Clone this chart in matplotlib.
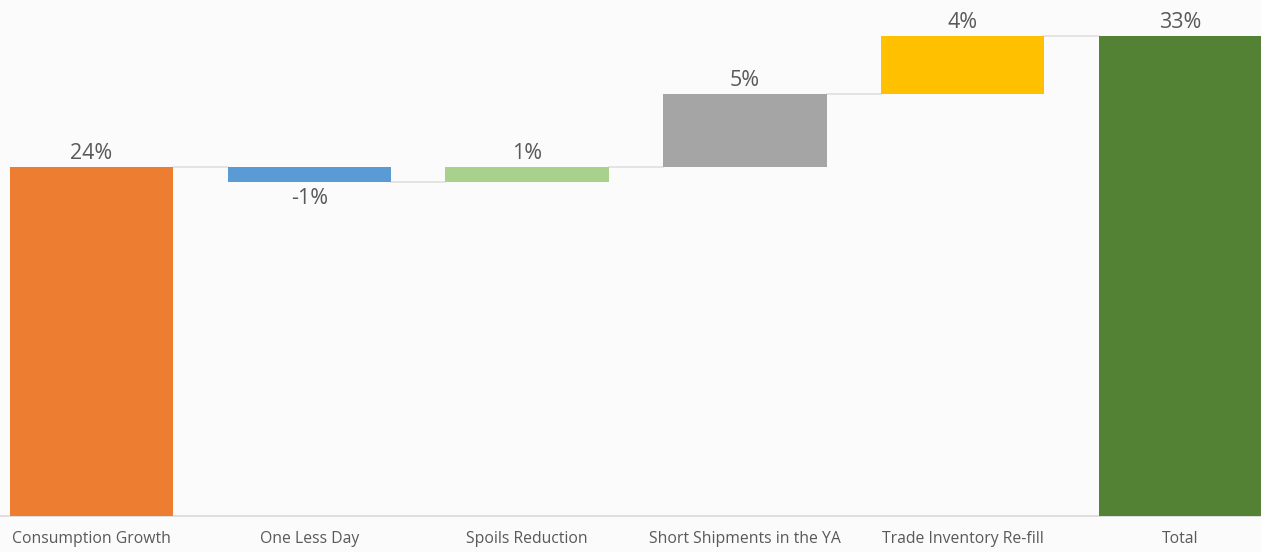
import matplotlib
matplotlib.use("Agg")
import matplotlib.pyplot as plt

categories = ["Consumption Growth", "One Less Day", "Spoils Reduction",
              "Short Shipments in the YA", "Trade Inventory Re-fill", "Total"]
changes = [24, -1, 1, 5, 4]
total = 33
colors = ["#ED7D31", "#5B9BD5", "#A9D18E", "#A5A5A5", "#FFC000", "#548235"]
value_labels = ["24%", "-1%", "1%", "5%", "4%", "33%"]

plt.rcParams["font.family"] = ["Open Sans", "DejaVu Sans"]
text_color = "#595959"

fig = plt.figure(figsize=(12.61, 5.52), dpi=100)
fig.patch.set_facecolor("#fbfbfb")
ax = fig.add_axes([0, 36 / 552, 1, 516 / 552])
ax.set_facecolor("#fbfbfb")

width = 0.75
# running cumulative bottoms/tops of the waterfall
bottoms, heights = [], []
level = 0
for c in changes:
    if c >= 0:
        bottoms.append(level)
        heights.append(c)
    else:
        bottoms.append(level + c)
        heights.append(-c)
    level += c
bottoms.append(0)
heights.append(total)

x = list(range(len(categories)))
ax.bar(x, heights, bottom=bottoms, width=width, color=colors, zorder=3)

# connector lines between consecutive bars
levels = []
level = 0
for c in changes:
    level += c
    levels.append(level)
for i, lv in enumerate(levels):
    ax.plot([i + width / 2, i + 1 - width / 2], [lv, lv],
            color="#e0e0e0", lw=1.2, zorder=2)

# value labels
all_vals = changes + [total]
for i, (v, lab) in enumerate(zip(all_vals, value_labels)):
    if v >= 0:
        ax.text(i, bottoms[i] + heights[i] + 0.2, lab, ha="center", va="bottom",
                fontsize=15.5, color=text_color)
    else:
        ax.text(i, bottoms[i] - 0.45, lab, ha="center", va="top",
                fontsize=15.5, color=text_color)

ax.set_xlim(-0.42, 5.37)
ax.set_ylim(0, 35.49)
ax.set_xticks(x)
ax.set_xticklabels(categories, fontsize=11.3, color=text_color)
ax.tick_params(axis="x", length=0, pad=11)
ax.set_yticks([])
for side in ["top", "left", "right"]:
    ax.spines[side].set_visible(False)
ax.spines["bottom"].set_color("#d9d9d9")
ax.spines["bottom"].set_linewidth(1.2)

fig.savefig("out.png", dpi=100, facecolor=fig.get_facecolor())
